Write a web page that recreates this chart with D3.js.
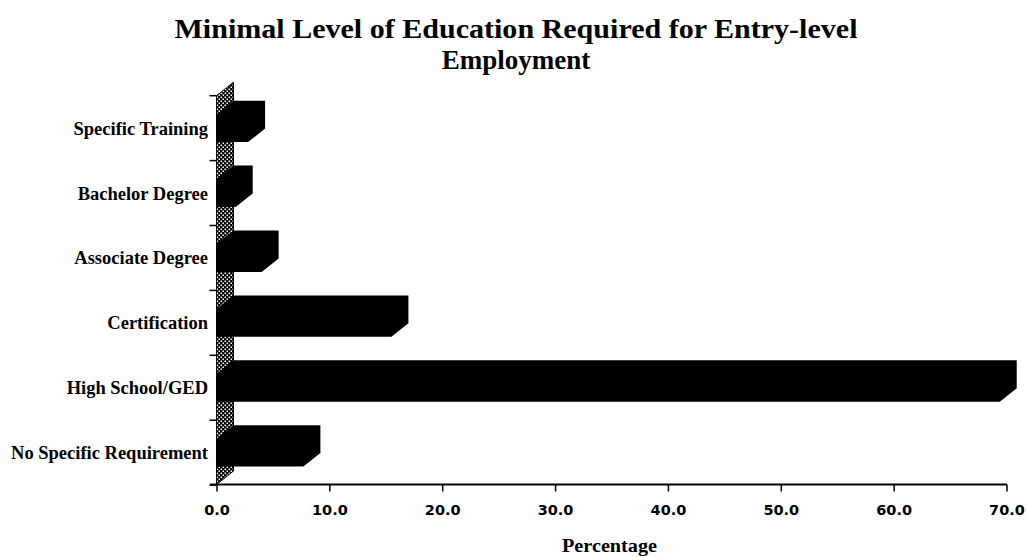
<!DOCTYPE html>
<html>
<head>
<meta charset="utf-8">
<script src="https://cdn.jsdelivr.net/npm/d3@7"></script>
<style>
  html, body { margin: 0; padding: 0; background: #fff; }
  svg { display: block; }
</style>
</head>
<body>
<svg id="chart" width="1027" height="557"></svg>
<script>
// Categories, top to bottom
const categories = [
  "Specific Training",
  "Bachelor Degree",
  "Associate Degree",
  "Certification",
  "High School/GED",
  "No Specific Requirement"
];
// Percentage of respondents per category
const percentages = [2.8, 1.7, 4.0, 15.5, 69.4, 7.7];
// Axis tick values
const xTicks = [0, 10, 20, 30, 40, 50, 60, 70];

const titleLines = ["Minimal Level of Education Required for Entry-level", "Employment"];
const titleWidths = [683, null];
const xTitle = "Percentage";

const svg = d3.select("#chart");

const x = d3.scaleLinear().domain([0, 70]).range([216.5, 1006.5]);
const y = d3.scaleBand().domain(categories).range([95.7, 485.1])
  .paddingInner(0.57).paddingOuter(0.285);

// 3-D depth offset
const dx = 17, dy = 13.5;
const baseY = 484.5;

// stipple pattern for the side wall
const defs = svg.append("defs");
const pat = defs.append("pattern").attr("id", "stipple")
  .attr("patternUnits", "userSpaceOnUse").attr("width", 4).attr("height", 4);
pat.append("rect").attr("width", 4).attr("height", 4).attr("fill", "#000");
pat.append("rect").attr("x", 0.5).attr("y", 0.5).attr("width", 1.6).attr("height", 1.6).attr("fill", "#fff");
pat.append("rect").attr("x", 2.5).attr("y", 2.5).attr("width", 1.6).attr("height", 1.6).attr("fill", "#fff");

const plotTop = y.range()[0];
const x0 = x(0);

// side wall
svg.append("polygon")
  .attr("points", [[x0, baseY], [x0, plotTop], [x0 + dx, plotTop - dy], [x0 + dx, baseY - dy]].map(p => p.join(",")).join(" "))
  .attr("fill", "url(#stipple)")
  .attr("stroke", "#000").attr("stroke-width", 1);

// category boundary ticks
const step = y.step();
svg.append("g").selectAll("line")
  .data(d3.range(categories.length + 1))
  .join("line")
  .attr("x1", x0 - 7).attr("x2", x0)
  .attr("y1", i => plotTop + i * step).attr("y2", i => plotTop + i * step)
  .attr("stroke", "#000").attr("stroke-width", 1.5);

// bars
svg.append("g").selectAll("polygon")
  .data(categories.map((c, i) => ({ c, v: percentages[i] })))
  .join("polygon")
  .attr("points", d => {
    const y0 = y(d.c), y1 = y0 + y.bandwidth(), xv = x(d.v);
    return [[x0, y0], [x0 + dx, y0 - dy], [xv + dx, y0 - dy], [xv + dx, y1 - dy], [xv, y1], [x0, y1]]
      .map(p => p.join(",")).join(" ");
  })
  .attr("fill", "#000");

// category labels
svg.append("g").selectAll("text")
  .data(categories)
  .join("text")
  .attr("x", 208)
  .attr("y", d => y(d) + y.bandwidth() / 2)
  .attr("dy", "0.35em")
  .attr("text-anchor", "end")
  .attr("font-family", "Liberation Serif, serif")
  .attr("font-weight", "bold")
  .attr("font-size", 18.5)
  .text(d => d);

// x axis
const xAxis = d3.axisBottom(x).tickValues(xTicks).tickFormat(d3.format(".1f")).tickSize(7).tickSizeOuter(0);
const gx = svg.append("g").attr("transform", `translate(0,${baseY})`).call(xAxis);
gx.select(".domain").remove();
gx.append("line").attr("x1", 210).attr("x2", x(70) + 0.5).attr("stroke", "#000").attr("stroke-width", 2);
gx.selectAll(".tick line").attr("stroke", "#000").attr("stroke-width", 1.5);
gx.selectAll(".tick text")
  .attr("y", 20.5)
  .attr("dy", "0.71em")
  .attr("fill", "#000")
  .attr("font-family", "DejaVu Sans, sans-serif")
  .attr("font-weight", "bold")
  .attr("font-size", 14.5);

// axis title
svg.append("text")
  .attr("x", 609.5)
  .attr("y", 551.5)
  .attr("text-anchor", "middle")
  .attr("font-family", "Liberation Serif, serif")
  .attr("font-weight", "bold")
  .attr("font-size", 18)
  .attr("textLength", 95)
  .attr("lengthAdjust", "spacingAndGlyphs")
  .text(xTitle);

// chart title
svg.append("g").selectAll("text")
  .data(titleLines)
  .join("text")
  .attr("x", 516)
  .attr("y", (d, i) => 38 + i * 31)
  .attr("text-anchor", "middle")
  .attr("font-family", "Liberation Serif, serif")
  .attr("font-weight", "bold")
  .attr("font-size", 27)
  .each(function (d, i) {
    if (titleWidths[i]) d3.select(this).attr("textLength", titleWidths[i]).attr("lengthAdjust", "spacingAndGlyphs");
  })
  .text(d => d);
</script>
</body>
</html>
